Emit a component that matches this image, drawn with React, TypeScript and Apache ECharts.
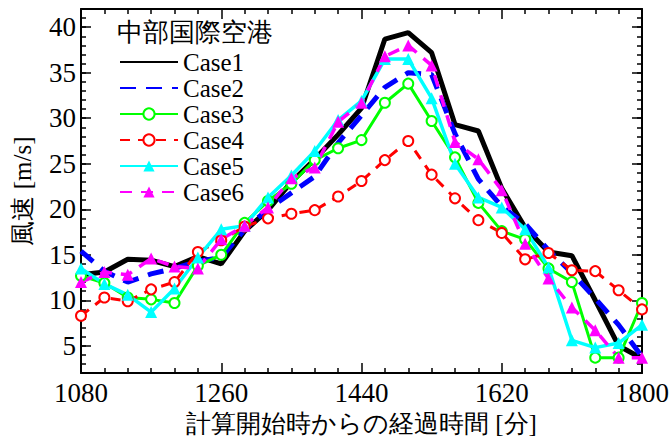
import React, { useEffect, useRef } from "react";
import * as echarts from "echarts";

const times = [1080, 1110, 1140, 1170, 1200, 1230, 1260, 1290, 1320, 1350, 1380, 1410, 1440, 1470, 1500, 1530, 1560, 1590, 1620, 1650, 1680, 1710, 1740, 1770, 1800];

const case1 = [12.8, 13.1, 14.5, 14.4, 13.7, 14.8, 14.0, 17.6, 19.9, 23.0, 25.5, 28.2, 31.1, 38.7, 39.4, 37.2, 29.3, 28.6, 22.3, 18.0, 15.3, 14.9, 10.0, 5.0, 3.6];
const case2 = [15.4, 13.2, 12.0, 12.9, 13.5, 14.3, 14.7, 17.8, 20.0, 21.8, 23.6, 27.3, 30.3, 33.4, 35.0, 34.8, 28.3, 23.3, 20.3, 18.4, 15.5, 13.0, 10.2, 7.3, 3.8];
const case3 = [12.7, 11.9, 10.3, 10.1, 9.7, 13.8, 15.0, 18.5, 20.9, 22.8, 25.4, 26.7, 27.6, 31.7, 33.8, 29.7, 25.7, 20.7, 17.6, 16.7, 13.5, 12.0, 3.7, 3.7, 9.7];
const case4 = [8.3, 10.3, 9.9, 11.2, 12.0, 15.3, 16.6, 18.1, 19.0, 19.5, 19.9, 21.4, 23.1, 25.4, 27.5, 23.8, 21.2, 18.8, 17.4, 14.5, 15.2, 13.3, 13.2, 11.1, 9.0];
const case5 = [13.5, 11.8, 10.6, 8.7, 11.3, 14.7, 17.8, 18.2, 21.3, 23.7, 26.4, 29.8, 31.9, 36.5, 36.5, 32.2, 25.0, 21.3, 20.2, 17.8, 13.6, 5.6, 4.8, 5.3, 7.3];
const case6 = [12.0, 13.1, 12.8, 14.6, 13.7, 13.5, 16.7, 18.2, 20.2, 23.4, 24.6, 29.6, 31.7, 36.8, 38.0, 35.8, 27.4, 25.5, 22.1, 16.2, 12.4, 9.2, 6.7, 3.7, 3.7];

const seriesNames = ["Case1", "Case2", "Case3", "Case4", "Case5", "Case6"];
const yMajorTicks = [5, 10, 15, 20, 25, 30, 35, 40];
const xTicks = [1080, 1260, 1440, 1620, 1800];

const legendTitle = "中部国際空港";
const xName = "計算開始時からの経過時間 [分]";
const yName = "風速 [m/s]";

const SERIF = "serif";
const CSS = `#wind-chart svg text { font-family: "Liberation Serif", serif !important; }`;

const pairs = (vals: number[]) => vals.map((v, i) => [times[i], v]);

export default function App() {
  const ref = useRef<HTMLDivElement>(null);
  useEffect(() => {
    if (!ref.current) return;
    const chart = echarts.init(ref.current, undefined, { renderer: "svg" });
    const yMin = 2;
    const yMax = 42;
    const axisLine = { show: true, lineStyle: { color: "#000", width: 2 } };
    const fmt = (v: number) => String(v);
    const minorY = (pos: string, labels: boolean) => ({
      type: "value",
      position: pos,
      min: yMin,
      max: yMax,
      interval: 1,
      axisLine,
      axisTick: { show: true, inside: true, length: 5, lineStyle: { color: "#000", width: 1.5 } },
      axisLabel: labels
        ? { show: true, customValues: yMajorTicks, formatter: fmt, fontFamily: SERIF, fontSize: 27, color: "#000", margin: 5 }
        : { show: false },
      splitLine: { show: false },
    });
    const majorY = (pos: string) => ({
      type: "value",
      position: pos,
      min: yMin,
      max: yMax,
      interval: 1,
      axisLine: { show: false },
      axisTick: { show: true, inside: true, length: 10, customValues: yMajorTicks, lineStyle: { color: "#000", width: 1.5 } },
      axisLabel: { show: false },
      splitLine: { show: false },
    });
    const xAx = (pos: string, labels: boolean) => ({
      type: "value",
      position: pos,
      min: 1080,
      max: 1800,
      interval: 180,
      axisLine,
      axisTick: { show: true, inside: true, length: 10, lineStyle: { color: "#000", width: 1.5 } },
      minorTick: { show: true, splitNumber: 6, length: 5, lineStyle: { color: "#000", width: 1.5 } },
      axisLabel: labels
        ? { show: true, customValues: xTicks, formatter: fmt, fontFamily: SERIF, fontSize: 27, color: "#000", margin: 6 }
        : { show: false },
      splitLine: { show: false },
      minorSplitLine: { show: false },
      ...(labels
        ? {
            name: xName,
            nameLocation: "middle",
            nameGap: 36,
            nameTextStyle: { fontFamily: SERIF, fontSize: 25, color: "#000" },
          }
        : {}),
    });

    const yAxis0: any = minorY("left", true);
    yAxis0.name = yName;
    yAxis0.nameLocation = "middle";
    yAxis0.nameGap = 46;
    yAxis0.nameRotate = 90;
    yAxis0.nameTextStyle = { fontFamily: SERIF, fontSize: 25, color: "#000" };

    const sym = 10;
    const legendData = seriesNames.map((n, i) =>
      i < 2 ? { name: n, itemStyle: { opacity: 0 } } : { name: n }
    );
    chart.setOption({
      animation: false,
      backgroundColor: "#fff",
      textStyle: { fontFamily: SERIF },
      grid: { left: 81, right: 30, top: 9, bottom: 63, containLabel: false },
      xAxis: [xAx("bottom", true), xAx("top", false)],
      yAxis: [yAxis0, majorY("left"), minorY("right", false), majorY("right")],
      legend: {
        orient: "vertical",
        left: 119,
        top: 49,
        padding: 0,
        itemWidth: 58,
        itemHeight: 14,
        itemGap: 0,
        data: legendData,
        textStyle: { fontFamily: SERIF, fontSize: 25, color: "#000", lineHeight: 26 },
      },
      graphic: [
        {
          type: "text",
          left: 117,
          top: 19,
          style: { text: legendTitle, fontFamily: SERIF, fontSize: 26, fill: "#000" },
        },
      ],
      series: [
        {
          name: seriesNames[0],
          type: "line",
          data: pairs(case1),
          symbol: "none",
          color: "#000000",
          lineStyle: { color: "#000000", width: 5 },
        },
        {
          name: seriesNames[1],
          type: "line",
          data: pairs(case2),
          symbol: "none",
          color: "#0000ff",
          lineStyle: { color: "#0000ff", width: 5, type: [16, 10] },
        },
        {
          name: seriesNames[2],
          type: "line",
          data: pairs(case3),
          symbol: "emptyCircle",
          symbolSize: sym,
          color: "#00ff00",
          itemStyle: { color: "#00ff00", borderWidth: 2.5 },
          lineStyle: { color: "#00ff00", width: 3 },
        },
        {
          name: seriesNames[3],
          type: "line",
          data: pairs(case4),
          symbol: "emptyCircle",
          symbolSize: sym,
          color: "#ff0000",
          itemStyle: { color: "#ff0000", borderWidth: 2.5 },
          lineStyle: { color: "#ff0000", width: 3, type: [10, 8] },
        },
        {
          name: seriesNames[4],
          type: "line",
          data: pairs(case5),
          symbol: "triangle",
          symbolSize: 12,
          color: "#00ffff",
          itemStyle: { color: "#00ffff" },
          lineStyle: { color: "#00ffff", width: 3.5 },
        },
        {
          name: seriesNames[5],
          type: "line",
          data: pairs(case6),
          symbol: "triangle",
          symbolSize: 12,
          color: "#ff00ff",
          itemStyle: { color: "#ff00ff" },
          lineStyle: { color: "#ff00ff", width: 3.5, type: [12, 9] },
        },
      ],
    });
    return () => chart.dispose();
  }, []);
  return (
    <>
      <style>{CSS}</style>
      <div
        id="wind-chart"
        ref={ref}
        style={{ position: "fixed", left: 0, top: 0, width: 672, height: 441, background: "#fff" }}
      />
    </>
  );
}
